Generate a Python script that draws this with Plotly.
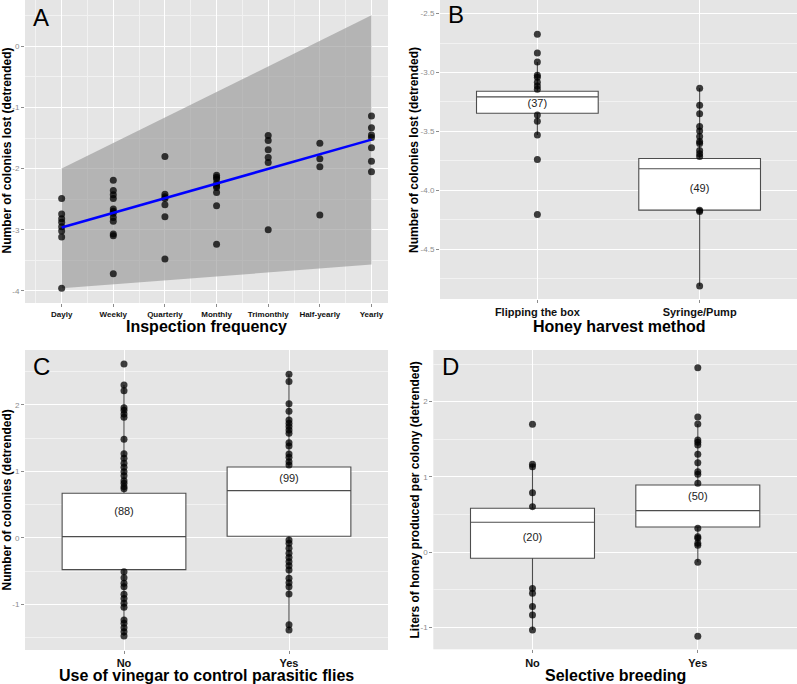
import plotly.graph_objects as go

# ---------------- Data ----------------
# Panel A: inspection frequency
inspection_categories = ["Dayly", "Weekly", "Quarterly", "Monthly", "Trimonthly", "Half-yearly", "Yearly"]
loss_dayly = [-2.49, -2.745, -2.82, -2.88, -2.95, -3.02, -3.12, -3.96]
loss_weekly = [-2.19, -2.36, -2.43, -2.49, -2.66, -2.70, -2.73, -2.80, -2.86, -3.07, -3.10, -3.72]
loss_quarterly = [-1.80, -2.42, -2.46, -2.49, -2.59, -2.79, -3.48]
loss_monthly = [-2.11, -2.14, -2.17, -2.24, -2.28, -2.31, -2.39, -2.61, -3.24]
loss_trimonthly = [-1.46, -1.54, -1.69, -1.82, -1.90, -3.00]
loss_halfyearly = [-1.585, -1.84, -1.97, -2.76]
loss_yearly = [-1.14, -1.33, -1.45, -1.49, -1.66, -1.88, -2.05]
fit_x = [1, 7]
fit_y = [-2.963, -1.525]
ribbon_upper = [-2.0, 0.51]
ribbon_lower = [-3.96, -3.57]
a_yticks = [-4, -3, -2, -1, 0]
a_yticklabels = ["-4", "-3", "-2", "-1", "0"]

# Panel B: honey harvest method
harvest_categories = ["Flipping the box", "Syringe/Pump"]
harvest_n = ["(37)", "(49)"]
harvest_label_y = [-3.27, -3.988]
harvest_q1 = [-3.346, -4.169]
harvest_median = [-3.207, -3.818]
harvest_q3 = [-3.159, -3.731]
harvest_lower = [-3.53, -4.814]
harvest_upper = [-2.91, -3.134]
loss_flipping = [-2.675, -2.834, -2.91, -3.023, -3.04, -3.083, -3.114, -3.142, -3.36, -3.414, -3.53, -3.739, -4.206]
loss_syringe = [-3.134, -3.278, -3.351, -3.459, -3.496, -3.544, -3.586, -3.603, -3.663, -3.69, -3.714, -4.17, -4.18, -4.814]
b_yticks = [-4.5, -4.0, -3.5, -3.0, -2.5]
b_yticklabels = ["-4.5", "-4.0", "-3.5", "-3.0", "-2.5"]

# Panel C: vinegar
vinegar_categories = ["No", "Yes"]
vinegar_n = ["(88)", "(99)"]
vinegar_label_y = [0.38, 0.886]
vinegar_q1 = [-0.476, 0.025]
vinegar_median = [0.02, 0.711]
vinegar_q3 = [0.671, 1.067]
vinegar_lower = [-1.472, -1.382]
vinegar_upper = [2.298, 2.459]
colonies_no = [2.614, 2.298, 2.213, 1.958, 1.918, 1.863, 1.813, 1.482, 1.267, 1.197, 1.122, 1.062, 0.996,
               0.936, 0.861, 0.821, 0.771, 0.741, -0.506, -0.596, -0.681, -0.731, -0.846, -0.911, -0.981,
               -1.042, -1.232, -1.282, -1.347, -1.407, -1.472]
colonies_yes = [2.459, 2.349, 2.018, 1.903, 1.773, 1.723, 1.673, 1.622, 1.572, 1.432, 1.382, 1.262, 1.212,
                1.147, 1.097, -0.03, -0.08, -0.155, -0.23, -0.295, -0.356, -0.416, -0.481, -0.606, -0.671,
                -0.731, -0.841, -1.302, -1.382]
c_yticks = [-1, 0, 1, 2]
c_yticklabels = ["-1", "0", "1", "2"]

# Panel D: selective breeding
breeding_categories = ["No", "Yes"]
breeding_n = ["(20)", "(50)"]
breeding_label_y = [0.181, 0.735]
breeding_q1 = [-0.08, 0.336]
breeding_median = [0.398, 0.553]
breeding_q3 = [0.584, 0.894]
breeding_lower = [-1.031, -0.133]
breeding_upper = [1.168, 1.704]
honey_no = [1.699, 1.168, 1.137, 0.792, 0.606, -0.482, -0.544, -0.721, -0.832, -1.031]
honey_yes = [2.451, 1.796, 1.704, 1.491, 1.460, 1.425, 1.301, 1.19, 1.071, 1.035, 0.916, 0.319, 0.208,
             0.186, 0.119, 0.093, -0.133, -1.115]
d_yticks = [-1, 0, 1, 2]
d_yticklabels = ["-1", "0", "1", "2"]

# ---------------- Figure ----------------
W, H = 797, 684
FONT = "Liberation Sans, Arial, sans-serif"
PT_COLOR = "rgba(0,0,0,0.75)"
BOX_LINE = "#4d4d4d"
TICK_GRAY = "#8c8c8c"

fig = go.Figure()

def px_x(p):
    return p / W

def px_y(p):
    return 1 - p / H

# Panel A
fig.add_trace(go.Scatter(x=fit_x, y=ribbon_lower, mode="lines", line=dict(width=0),
                         xaxis="x", yaxis="y", showlegend=False, hoverinfo="skip"))
fig.add_trace(go.Scatter(x=fit_x, y=ribbon_upper, mode="lines", line=dict(width=0), fill="tonexty",
                         fillcolor="rgba(153,153,153,0.65)", xaxis="x", yaxis="y", showlegend=False,
                         hoverinfo="skip"))
groups_a = [loss_dayly, loss_weekly, loss_quarterly, loss_monthly, loss_trimonthly, loss_halfyearly, loss_yearly]
for i, vals in enumerate(groups_a):
    fig.add_trace(go.Scatter(x=[i + 1] * len(vals), y=vals, mode="markers",
                             marker=dict(size=7, color=PT_COLOR, line=dict(width=0)),
                             xaxis="x", yaxis="y", showlegend=False))
fig.add_trace(go.Scatter(x=fit_x, y=fit_y, mode="lines", line=dict(color="#0000FF", width=2.5),
                         xaxis="x", yaxis="y", showlegend=False))

def add_box_panel(xa, ya, q1, med, q3, lo, up, groups, labels, label_y):
    fig.add_trace(go.Box(x=[1, 2], q1=q1, median=med, q3=q3, lowerfence=lo, upperfence=up,
                         width=0.75, whiskerwidth=0, fillcolor="white", boxpoints=False,
                         line=dict(color=BOX_LINE, width=1.1), xaxis=xa, yaxis=ya, showlegend=False))
    for i, vals in enumerate(groups):
        fig.add_trace(go.Scatter(x=[i + 1] * len(vals), y=vals, mode="markers",
                                 marker=dict(size=7, color=PT_COLOR, line=dict(width=0)),
                                 xaxis=xa, yaxis=ya, showlegend=False))
    fig.add_trace(go.Scatter(x=[1, 2], y=label_y, mode="text", text=labels,
                             textfont=dict(family=FONT, size=11, color="#222222"),
                             xaxis=xa, yaxis=ya, showlegend=False))

add_box_panel("x2", "y2", harvest_q1, harvest_median, harvest_q3, harvest_lower, harvest_upper,
              [loss_flipping, loss_syringe], harvest_n, harvest_label_y)
add_box_panel("x3", "y3", vinegar_q1, vinegar_median, vinegar_q3, vinegar_lower, vinegar_upper,
              [colonies_no, colonies_yes], vinegar_n, vinegar_label_y)
add_box_panel("x4", "y4", breeding_q1, breeding_median, breeding_q3, breeding_lower, breeding_upper,
              [honey_no, honey_yes], breeding_n, breeding_label_y)

def mids(vals, rng):
    step = vals[1] - vals[0]
    out = [vals[0] - step / 2] + [(a + b) / 2 for a, b in zip(vals[:-1], vals[1:])] + [vals[-1] + step / 2]
    return [v for v in out if rng[0] <= v <= rng[1]]

def yaxis(domain, rng, tickvals, ticktext, anchor):
    return dict(domain=domain, range=rng, tickmode="array", tickvals=tickvals, ticktext=ticktext,
                anchor=anchor, showline=False, zeroline=False, ticks="outside", ticklen=3,
                tickcolor=TICK_GRAY, tickwidth=1,
                tickfont=dict(family=FONT, size=8, color=TICK_GRAY),
                showgrid=True, gridcolor="white", gridwidth=1.1,
                minor=dict(tickvals=mids(tickvals, rng), showgrid=True, gridcolor="#F2F2F2",
                           gridwidth=0.6, ticks=""))

def xaxis(domain, rng, tickvals, ticktext, anchor, size, minor=None):
    d = dict(domain=domain, range=rng, tickmode="array", tickvals=tickvals, ticktext=ticktext,
             anchor=anchor, showline=False, zeroline=False, ticks="outside", ticklen=3,
             tickcolor=TICK_GRAY, tickwidth=1,
             tickfont=dict(family=FONT, size=size, color="#111111", weight="bold"),
             showgrid=True, gridcolor="white", gridwidth=1.1)
    if minor:
        d["minor"] = dict(tickvals=minor, showgrid=True, gridcolor="#F2F2F2", gridwidth=0.6, ticks="")
    return d

a_xrange = [0.29, 7.32]
a_xticks = list(range(1, len(inspection_categories) + 1))

fig.update_layout(
    width=W, height=H, autosize=False,
    margin=dict(l=0, r=0, t=0, b=0),
    paper_bgcolor="white", plot_bgcolor="#E5E5E5",
    font=dict(family=FONT),
    xaxis=xaxis([px_x(25), px_x(388)], a_xrange, a_xticks, inspection_categories, "y", 8,
                minor=mids(a_xticks, a_xrange)),
    yaxis=yaxis([px_y(303), 1.0], [-4.2, 0.76], a_yticks, a_yticklabels, "x"),
    xaxis2=xaxis([px_x(440), 1.0], [0.4, 2.6], [1, 2], harvest_categories, "y2", 11),
    yaxis2=yaxis([px_y(299), 1.0], [-4.924, -2.384], b_yticks, b_yticklabels, "x2"),
    xaxis3=xaxis([px_x(25), px_x(388)], [0.4, 2.6], [1, 2], vinegar_categories, "y3", 11),
    yaxis3=yaxis([px_y(650), px_y(350)], [-1.683, 2.824], c_yticks, c_yticklabels, "x3"),
    xaxis4=xaxis([px_x(433.3), 1.0], [0.4, 2.6], [1, 2], breeding_categories, "y4", 11),
    yaxis4=yaxis([px_y(649.3), px_y(350)], [-1.288, 2.686], d_yticks, d_yticklabels, "x4"),
)

annotations = []
def ann(text, x, y, size, bold=False, angle=0):
    annotations.append(dict(text=text, x=px_x(x), y=px_y(y), xref="paper", yref="paper",
                            xanchor="center", yanchor="middle", showarrow=False, textangle=angle,
                            font=dict(family=FONT, size=size, color="black",
                                      weight="bold" if bold else "normal")))

# panel letters
ann("A", 41, 17, 24)
ann("B", 456, 15, 24)
ann("C", 41, 366, 24)
ann("D", 450, 366, 24)
# x titles
ann("Inspection frequency", 206.5, 326, 16, bold=True)
ann("Honey harvest method", 618.5, 326, 16, bold=True)
ann("Use of vinegar to control parasitic flies", 206.5, 675.5, 16, bold=True)
ann("Selective breeding", 615, 675.5, 16, bold=True)
# y titles
ann("Number of colonies lost (detrended)", 6.5, 151, 12, bold=True, angle=-90)
ann("Number of colonies lost (detrended)", 414, 150, 12, bold=True, angle=-90)
ann("Number of colonies (detrended)", 6.5, 500, 12, bold=True, angle=-90)
ann("Liters of honey produced per colony (detrended)", 414.5, 500, 12, bold=True, angle=-90)

fig.update_layout(annotations=annotations)
fig.write_html("out.html", config={"displayModeBar": False},
               post_script="document.body.style.margin='0';document.body.style.overflow='hidden';")
